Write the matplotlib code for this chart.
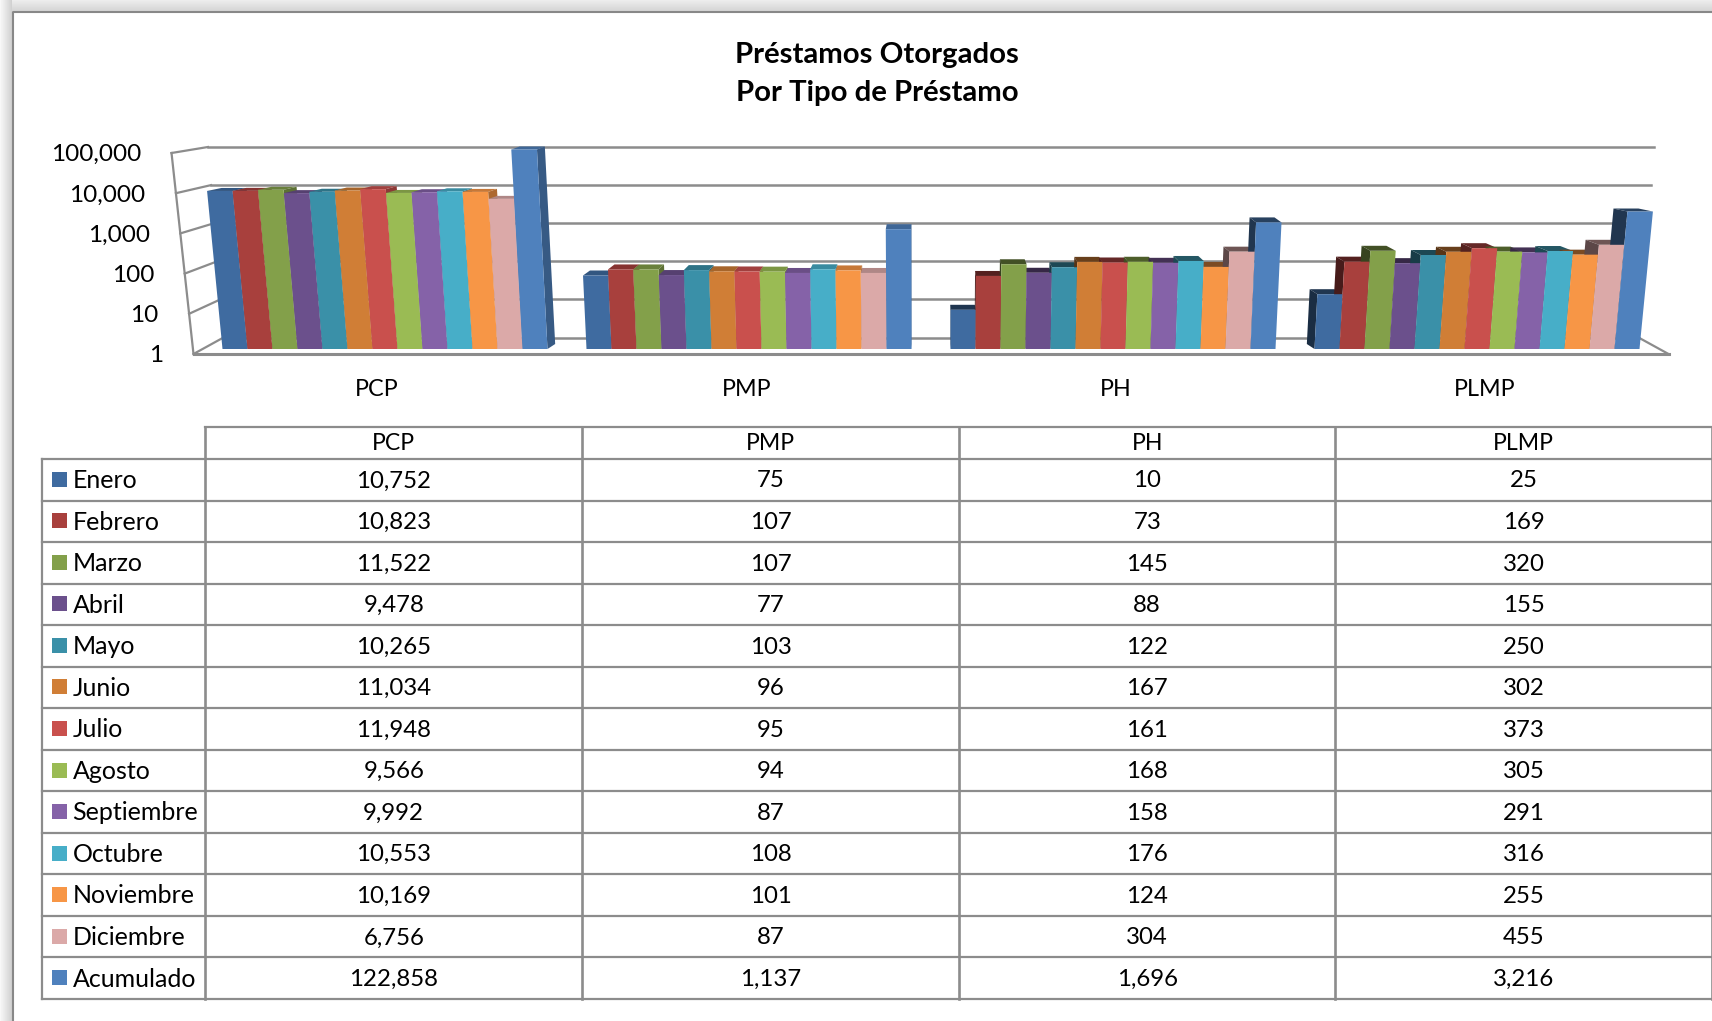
import numpy as np
import matplotlib.pyplot as plt
from matplotlib.patches import Polygon, Rectangle
from matplotlib.colors import to_rgb

plt.rcParams['font.family'] = ['Lato', 'DejaVu Sans']

# Data
categories = ['PCP', 'PMP', 'PH', 'PLMP']
months = ['Enero', 'Febrero', 'Marzo', 'Abril', 'Mayo', 'Junio', 'Julio', 'Agosto',
          'Septiembre', 'Octubre', 'Noviembre', 'Diciembre', 'Acumulado']
pcp = [10752, 10823, 11522, 9478, 10265, 11034, 11948, 9566, 9992, 10553, 10169, 6756, 122858]
pmp = [75, 107, 107, 77, 103, 96, 95, 94, 87, 108, 101, 87, 1137]
ph = [10, 73, 145, 88, 122, 167, 161, 168, 158, 176, 124, 304, 1696]
plmp = [25, 169, 320, 155, 250, 302, 373, 305, 291, 316, 255, 455, 3216]
series = [pcp, pmp, ph, plmp]
y_ticks = [1, 10, 100, 1000, 10000, 100000]
colors = ['#3F6BA0', '#A8403D', '#83A04A', '#6B508C', '#3A90A8', '#D07E36', '#C9504D',
          '#9ABB54', '#8562A8', '#47AEC8', '#F79646', '#DBA9A8', '#4F81BD']

W, H = 1712, 1021
GRAY = '#8C8C8C'
CX = 931          # pixel of the middle of the category axis
CAT = 364         # pixels per category
DEC = 39.2        # pixels per decade
BASE = 349        # pixel of value 1 at the front of the bars
BAR_W = 25 / CAT
LEAN = 0.0054     # bars lean outwards with height
DEPTH_X = 0.98

fig = plt.figure(figsize=(W / 100, H / 100), dpi=100)

# page: background, frame and table, in pixels
pg = fig.add_axes([0, 0, 1, 1])
pg.set_xlim(0, W)
pg.set_ylim(H, 0)
pg.axis('off')
grad_left = np.linspace(0.97, 0.82, 12).reshape(1, -1)
grad_top = np.linspace(0.93, 0.84, 11).reshape(-1, 1)
pg.imshow(grad_top, extent=(0, W, 11, 0), cmap='gray', vmin=0, vmax=1, aspect='auto')
pg.imshow(grad_left, extent=(0, 12, H, 0), cmap='gray', vmin=0, vmax=1, aspect='auto')
pg.set_xlim(0, W)
pg.set_ylim(H, 0)
pg.plot([13, 13, W], [H, 12, 12], color='#888888', lw=1.5)

pg.text(877, 54.5, 'Préstamos Otorgados', ha='center', va='center', fontsize=21.2, fontweight='bold')
pg.text(877, 93.5, 'Por Tipo de Préstamo', ha='center', va='center', fontsize=21.2, fontweight='bold')

# table
col_x = [205.5, 582, 959, 1335.5, 1712]
row_y = 459 + 41.54 * np.arange(len(months) + 1)
top_y = 427
left_x = 42
for y in row_y:
    pg.plot([left_x, W], [y, y], color=GRAY, lw=1.6)
pg.plot([col_x[0], W], [top_y, top_y], color=GRAY, lw=1.6)
pg.plot([left_x, left_x], [row_y[0], row_y[-1]], color=GRAY, lw=1.6)
for x in col_x:
    pg.plot([x, x], [top_y, row_y[-1]], color=GRAY, lw=1.9)

for j, name in enumerate(categories):
    xc = (col_x[j] + col_x[j + 1]) / 2
    pg.text(xc, (top_y + row_y[0]) / 2, name, ha='center', va='center', fontsize=16.6)
    for i, val in enumerate(series[j]):
        yc = (row_y[i] + row_y[i + 1]) / 2
        pg.text(xc, yc + 1.2, f'{val:,}', ha='center', va='center', fontsize=17.3)

for i, name in enumerate(months):
    yc = (row_y[i] + row_y[i + 1]) / 2
    pg.add_patch(Rectangle((52, yc - 8), 15, 15, color=colors[i], lw=0))
    pg.text(72.5, yc + 0.8, name, ha='left', va='center', fontsize=18)

# chart: log axis placed so one decade is DEC pixels
x_left, x_right = CX - 2.1 * CAT, CX + 2.1 * CAT
y_top, y_bot = 130, 360
ax = fig.add_axes([x_left / W, 1 - y_bot / H, (x_right - x_left) / W, (y_bot - y_top) / H])
ax.set_yscale('log')
ax.set_xlim(1.5 - 2.1, 1.5 + 2.1)
ax.set_ylim(10 ** ((BASE - y_bot) / DEC), 10 ** ((BASE - y_top) / DEC))
ax.axis('off')
ax.patch.set_alpha(0)


def wall_val(base_px, dec_px, d):
    # value whose front-of-bars pixel matches a wall pixel
    return 10 ** ((BASE - (base_px - dec_px * d)) / DEC)


def front_half(d):
    return 737.5 / CAT * (1 + 0.00596 * d)


def back_half(d):
    return 707.5 / CAT * (1 + 0.0044 * d)


# walls
for d in range(len(y_ticks)):
    yb = wall_val(337.5, 38.1, d)
    yf = wall_val(354, 40.2, d)
    ax.plot([1.5 - back_half(d), 1.5 + back_half(d)], [yb, yb], color=GRAY, lw=1.8, zorder=1, clip_on=False)
    ax.plot([1.5 - front_half(d), 1.5 - back_half(d)], [yf, yb], color=GRAY, lw=1.6, zorder=1, clip_on=False)
    ax.annotate(f'{y_ticks[d]:,}', (1.5 - front_half(d), yf), xytext=(-22, -1.2), textcoords='offset points',
                ha='right', va='center', fontsize=17.6, annotation_clip=False)
ax.plot([1.5 - front_half(0), 1.5 - front_half(5)], [wall_val(354, 40.2, 0), wall_val(354, 40.2, 5)],
        color=GRAY, lw=1.6, zorder=1, clip_on=False)
ax.plot([1.5 - front_half(0), 1.5 + front_half(0)], [wall_val(354, 40.2, 0)] * 2, color=GRAY, lw=2.2, zorder=1, clip_on=False)
ax.plot([1.5 + back_half(0), 1.5 + front_half(0)], [wall_val(337.5, 38.1, 0), wall_val(354, 40.2, 0)],
        color=GRAY, lw=1.6, zorder=1, clip_on=False)


def lean(x, val):
    return 1.5 + (x - 1.5) * (1 + LEAN * np.log10(val))


def shade(col, f):
    return tuple(c * f for c in to_rgb(col))


def back(x, val):
    # tops look flatter the higher they are
    d = np.log10(val)
    rise = 5 if d < 3.4 else 3
    return (1.5 + (lean(x, val) - 1.5) * DEPTH_X, val * 10 ** (rise / DEC))


# bars
for g, vals in enumerate(series):
    f_side = 0.7 if g < 2 else 0.42
    for i, val in enumerate(vals):
        x0 = g + (i - 6.5) * BAR_W
        x1 = x0 + BAR_W
        fl, fr = (lean(x0, 1), 1), (lean(x1, 1), 1)
        tl, tr = (lean(x0, val), val), (lean(x1, val), val)
        # top face
        ax.add_patch(Polygon([tl, tr, back(x1, val), back(x0, val)], closed=True, lw=0,
                             color=shade(colors[i], 0.8 if g < 2 else 0.5), zorder=2, clip_on=False))
        # side face, on the side looking at the middle of the axis
        if g < 2:
            ax.add_patch(Polygon([fr, tr, back(x1, val), back(x1, 1)], closed=True, lw=0,
                                 color=shade(colors[i], f_side), zorder=2, clip_on=False))
        else:
            ax.add_patch(Polygon([fl, tl, back(x0, val), back(x0, 1)], closed=True, lw=0,
                                 color=shade(colors[i], f_side), zorder=2, clip_on=False))
    for i, val in enumerate(vals):
        x0 = g + (i - 6.5) * BAR_W
        x1 = x0 + BAR_W
        ax.add_patch(Polygon([(lean(x0, 1), 1), (lean(x0, val), val), (lean(x1, val), val), (lean(x1, 1), 1)],
                             closed=True, lw=0, color=colors[i], zorder=3, clip_on=False))

# category labels
label_val = 10 ** ((BASE - 389) / DEC)
for g, name in enumerate(categories):
    ax.text(1.5 + (g - 1.5) * 1.0147, label_val, name, ha='center', va='center', fontsize=16.8, clip_on=False)

plt.savefig('out.png', dpi=100)
